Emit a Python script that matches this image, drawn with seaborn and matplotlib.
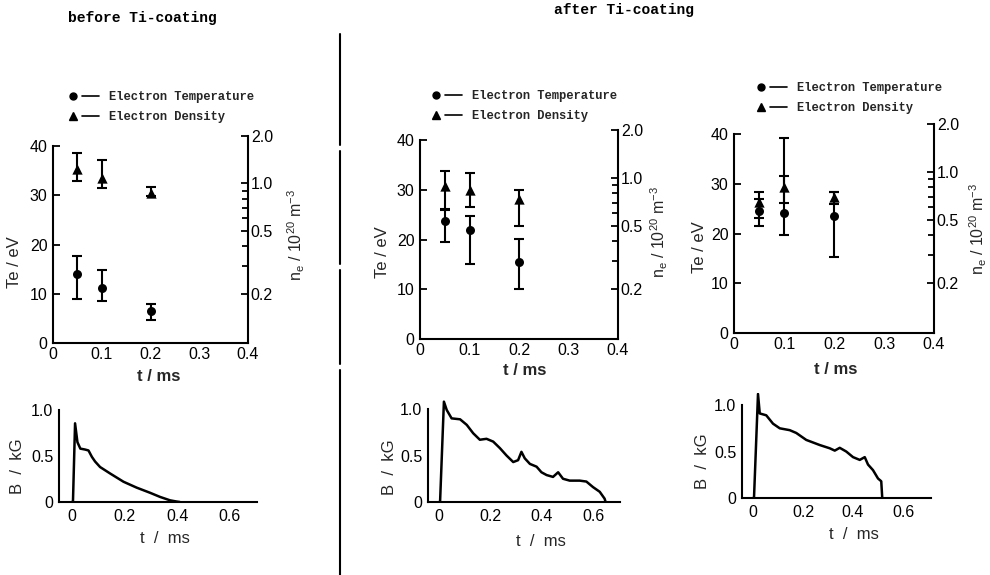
import numpy as np
import matplotlib
matplotlib.use("Agg")
import matplotlib.pyplot as plt
import seaborn as sns
from matplotlib.lines import Line2D
from matplotlib.legend_handler import HandlerTuple
from matplotlib.ticker import FixedLocator, FixedFormatter, NullFormatter

# ---------------- data ----------------
t_meas = [0.05, 0.1, 0.2]

# before Ti-coating
te_before = [14.1, 11.2, 6.6]
te_before_lo = [8.9, 8.5, 4.6]
te_before_hi = [17.6, 14.8, 8.0]
ne_before = [1.23, 1.09, 0.87]
ne_before_lo = [1.03, 0.94, 0.83]
ne_before_hi = [1.55, 1.41, 0.95]

# after Ti-coating, shot A
te_after_a = [23.7, 22.0, 15.5]
te_after_a_lo = [19.5, 15.2, 10.1]
te_after_a_hi = [26.0, 24.7, 20.1]
ne_after_a = [0.89, 0.84, 0.74]
ne_after_a_lo = [0.64, 0.66, 0.50]
ne_after_a_hi = [1.11, 1.07, 0.84]

# after Ti-coating, shot B
te_after_b = [24.6, 24.1, 23.5]
te_after_b_lo = [21.5, 19.8, 15.3]
te_after_b_hi = [27.0, 39.2, 28.4]
ne_after_b = [0.65, 0.80, 0.70]
ne_after_b_lo = [0.51, 0.64, 0.63]
ne_after_b_hi = [0.75, 0.94, 0.75]

# magnetic field traces
t_b_before = [0.0, 0.004, 0.012, 0.021, 0.032, 0.05, 0.063, 0.076, 0.088, 0.107,
              0.145, 0.196, 0.246, 0.297, 0.335, 0.373, 0.398, 0.41]
b_before = [0.0, 0.0, 0.855, 0.65, 0.58, 0.57, 0.56, 0.49, 0.44, 0.38,
            0.31, 0.22, 0.156, 0.10, 0.055, 0.018, 0.005, 0.0]

t_b_after_a = [0.0, 0.004, 0.019, 0.03, 0.049, 0.082, 0.108, 0.133, 0.159, 0.185,
               0.211, 0.237, 0.263, 0.289, 0.308, 0.321, 0.334, 0.354, 0.38, 0.399,
               0.419, 0.444, 0.464, 0.483, 0.509, 0.548, 0.574, 0.6, 0.626, 0.645, 0.649]
b_after_a = [0.0, 0.0, 1.08, 0.99, 0.90, 0.89, 0.83, 0.74, 0.67, 0.68,
             0.65, 0.58, 0.50, 0.43, 0.45, 0.54, 0.47, 0.41, 0.38, 0.32,
             0.29, 0.27, 0.32, 0.25, 0.23, 0.23, 0.22, 0.16, 0.11, 0.036, 0.0]

t_b_after_b = [0.0, 0.004, 0.02, 0.027, 0.053, 0.08, 0.107, 0.147, 0.173, 0.213,
               0.267, 0.307, 0.327, 0.347, 0.373, 0.40, 0.427, 0.447, 0.46, 0.48,
               0.50, 0.513, 0.517]
b_after_b = [0.0, 0.0, 1.12, 0.91, 0.89, 0.80, 0.75, 0.73, 0.70, 0.625,
             0.57, 0.535, 0.51, 0.54, 0.50, 0.44, 0.41, 0.44, 0.36, 0.30,
             0.21, 0.18, 0.0]

titles = ["before Ti-coating", "after Ti-coating"]
legend_labels = ["Electron Temperature", "Electron Density"]
te_ticks = [0, 10, 20, 30, 40]
ne_ticks = [0.2, 0.5, 1.0, 2.0]
ne_tick_labels = ["0.2", "0.5", "1.0", "2.0"]
ne_minor = [0.3, 0.4, 0.6, 0.7, 0.8, 0.9]
t_ticks_top = [0, 0.1, 0.2, 0.3, 0.4]
t_tick_labels_top = ["0", "0.1", "0.2", "0.3", "0.4"]
t_ticks_bot = [0, 0.2, 0.4, 0.6]
t_tick_labels_bot = ["0", "0.2", "0.4", "0.6"]
t_minor_bot = [0.1, 0.3, 0.5, 0.7]
b_ticks = [0, 0.5, 1.0]
b_tick_labels = ["0", "0.5", "1.0"]

# ---------------- style ----------------
sns.set_theme(style="white")
SANS = ["Liberation Sans", "DejaVu Sans"]
MONO = ["Liberation Mono", "DejaVu Sans Mono"]
plt.rcParams["font.family"] = SANS
plt.rcParams["mathtext.fontset"] = "custom"
plt.rcParams["mathtext.rm"] = "Liberation Sans"
plt.rcParams["axes.linewidth"] = 1.5
plt.rcParams["axes.edgecolor"] = "black"

W, H = 990, 575
fig = plt.figure(figsize=(W / 100, H / 100), dpi=100)


def box(l, t, r, b):
    return [l / W, 1 - b / H, (r - l) / W, (b - t) / H]


def style_ticks(ax, axis, size=11.5, pad=3):
    ax.tick_params(axis=axis, which="both", direction="in", width=1.3,
                   color="black", labelsize=size, labelcolor="black", pad=pad)
    ax.tick_params(axis=axis, which="major", length=5)
    ax.tick_params(axis=axis, which="minor", length=4)


panels = [
    dict(top=(53, 136, 248, 343), bot=(59, 398, 257, 502), bxlim=(-0.049, 0.703),
         te=te_before, te_lo=te_before_lo, te_hi=te_before_hi,
         ne=ne_before, ne_lo=ne_before_lo, ne_hi=ne_before_hi,
         tb=t_b_before, b=b_before,
         te_lab=(-0.159, 0.39), ne_lab=(1.195, 0.52), t_lab=(0.54, -0.126),
         tb_lab=(0.535, -0.28), b_lab=(-0.17, 0.34),
         leg=(65, 91)),
    dict(top=(420, 130, 618, 339), bot=(428, 397, 620, 502), bxlim=(-0.043, 0.705),
         te=te_after_a, te_lo=te_after_a_lo, te_hi=te_after_a_hi,
         ne=ne_after_a, ne_lo=ne_after_a_lo, ne_hi=ne_after_a_hi,
         tb=t_b_after_a, b=b_after_a,
         te_lab=(-0.15, 0.416), ne_lab=(1.155, 0.51), t_lab=(0.53, -0.115),
         tb_lab=(0.59, -0.305), b_lab=(-0.16, 0.33),
         leg=(428, 90)),
    dict(top=(734, 124, 934, 333), bot=(742, 393, 931, 498), bxlim=(-0.044, 0.712),
         te=te_after_b, te_lo=te_after_b_lo, te_hi=te_after_b_hi,
         ne=ne_after_b, ne_lo=ne_after_b_lo, ne_hi=ne_after_b_hi,
         tb=t_b_after_b, b=b_after_b,
         te_lab=(-0.135, 0.41), ne_lab=(1.17, 0.50), t_lab=(0.51, -0.139),
         tb_lab=(0.59, -0.276), b_lab=(-0.17, 0.35),
         leg=(753, 82)),
]

for p in panels:
    # ---- Te / ne panel ----
    ax = fig.add_axes(box(*p["top"]))
    ax2 = ax.twinx()
    ax.set_xlim(0, 0.4)
    ax.set_ylim(0, 42.1)
    ax2.set_yscale("log")
    ax2.set_ylim(0.097, 2.0)

    te = np.array(p["te"])
    ne = np.array(p["ne"])
    ax.errorbar(t_meas, te, yerr=[te - np.array(p["te_lo"]), np.array(p["te_hi"]) - te],
                fmt="none", ecolor="black", elinewidth=1.5, capsize=3.5, capthick=1.5)
    sns.scatterplot(x=t_meas, y=te, marker="o", s=42, color="black",
                    edgecolor="black", linewidth=0, ax=ax, zorder=3)
    ax2.errorbar(t_meas, ne, yerr=[ne - np.array(p["ne_lo"]), np.array(p["ne_hi"]) - ne],
                 fmt="none", ecolor="black", elinewidth=1.5, capsize=3.5, capthick=1.5)
    sns.scatterplot(x=t_meas, y=ne, marker="^", s=55, color="black",
                    edgecolor="black", linewidth=0, ax=ax2, zorder=3)

    for s in ("top", "right"):
        ax.spines[s].set_visible(False)
    for s in ("top", "left", "bottom"):
        ax2.spines[s].set_visible(False)
    ax.spines["left"].set_bounds(0, 40)

    ax.xaxis.set_major_locator(FixedLocator(t_ticks_top))
    ax.xaxis.set_major_formatter(FixedFormatter(t_tick_labels_top))
    ax.yaxis.set_major_locator(FixedLocator(te_ticks))
    ax2.yaxis.set_major_locator(FixedLocator(ne_ticks))
    ax2.yaxis.set_major_formatter(FixedFormatter(ne_tick_labels))
    ax2.yaxis.set_minor_locator(FixedLocator(ne_minor))
    ax2.yaxis.set_minor_formatter(NullFormatter())
    style_ticks(ax, "x", pad=3)
    style_ticks(ax, "y", pad=4)
    style_ticks(ax2, "y", pad=2)

    ax.set_ylabel("Te / eV", fontsize=12)
    ax.yaxis.set_label_coords(*p["te_lab"])
    ax.set_xlabel("t / ms", fontsize=12, fontweight="bold")
    ax.xaxis.set_label_coords(*p["t_lab"])
    ax2.set_ylabel(r"n$_\mathregular{e}$ / 10$^\mathregular{20}$ m$^\mathregular{-3}$",
                   fontsize=11.5, rotation=90)
    ax2.yaxis.set_label_coords(*p["ne_lab"])

    # legend: marker followed by a short line segment
    dot = Line2D([], [], marker="o", ls="none", color="black", markersize=5)
    tri = Line2D([], [], marker="^", ls="none", color="black", markersize=6)
    seg = Line2D([], [], ls="-", color="black", lw=1.2)
    lx, ly = p["leg"]
    fig.legend(handles=[(dot, seg), (tri, seg)], labels=legend_labels,
               handler_map={tuple: HandlerTuple(ndivide=None, pad=0)},
               loc="upper left", bbox_to_anchor=(lx / W, 1 - ly / H),
               bbox_transform=fig.transFigure, frameon=False, borderpad=0,
               borderaxespad=0, handlelength=2.8, handletextpad=0.85,
               labelspacing=0.65,
               prop=dict(family=MONO, weight="bold", size=8.7))

    # ---- B(t) panel ----
    axb = fig.add_axes(box(*p["bot"]))
    sns.lineplot(x=p["tb"], y=p["b"], sort=False, estimator=None, color="black",
                 lw=1.8, ax=axb)
    axb.set_xlim(*p["bxlim"])
    axb.set_ylim(0, 1.13)
    for s in ("top", "right"):
        axb.spines[s].set_visible(False)
    axb.spines["left"].set_bounds(0, 1.0)
    axb.xaxis.set_major_locator(FixedLocator(t_ticks_bot))
    axb.xaxis.set_major_formatter(FixedFormatter(t_tick_labels_bot))
    axb.xaxis.set_minor_locator(FixedLocator(t_minor_bot))
    axb.yaxis.set_major_locator(FixedLocator(b_ticks))
    axb.yaxis.set_major_formatter(FixedFormatter(b_tick_labels))
    style_ticks(axb, "x", pad=5)
    style_ticks(axb, "y", pad=4)
    axb.tick_params(axis="x", which="both", length=5)
    axb.set_xlabel("t  /  ms", fontsize=12)
    axb.xaxis.set_label_coords(*p["tb_lab"])
    axb.set_ylabel("B  /  kG", fontsize=12)
    axb.yaxis.set_label_coords(*p["b_lab"])

# titles
fig.text(68 / W, 1 - 18 / H, titles[0], family=MONO, weight="bold", fontsize=10.5,
         ha="left", va="center", color="black")
fig.text(624 / W, 1 - 10 / H, titles[1], family=MONO, weight="bold", fontsize=10.5,
         ha="center", va="center", color="black")

# vertical separator between the two groups
for y0, y1 in [(34, 145), (151, 264), (270, 364), (370, 575)]:
    fig.add_artist(Line2D([340 / W, 340 / W], [1 - y0 / H, 1 - y1 / H],
                          transform=fig.transFigure, color="black", lw=1.5))

fig.savefig("out.png", dpi=100, facecolor="white")
